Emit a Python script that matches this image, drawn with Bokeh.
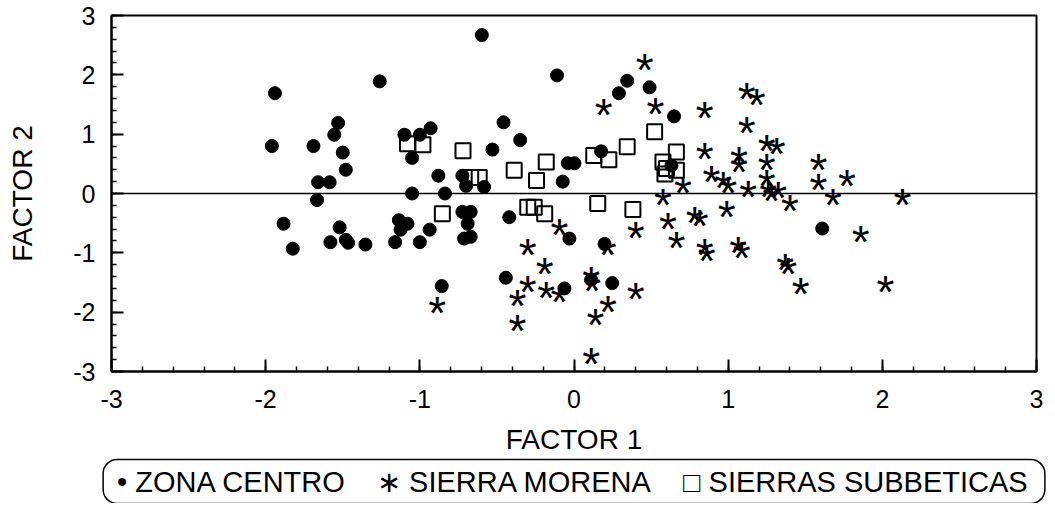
import numpy as np
from bokeh.plotting import figure
from bokeh.models import FixedTicker, Span, Title, ColumnDataSource
from bokeh.core.properties import value
from bokeh.embed import file_html
from bokeh.resources import INLINE

# ZONA CENTRO (filled dots)
zc_x = [-1.94, -1.26, -1.96, -1.69, -1.53, -1.555, -1.50, -1.48, -1.66, -1.585,
        -1.10, -1.00, -0.93, -1.05, -1.05, -0.837, -1.667, -0.598, -0.11, 0.345,
        0.291, 0.49, 0.649, 0.176, 0.632, -0.04, 0.003, -0.073, -0.457, -0.349,
        -0.529, -0.88, -0.724, -0.70, -0.583, -1.884, -1.824, -1.52, -1.58, -1.48,
        -1.465, -1.353, -1.136, -1.08, -1.125, -1.16, -1.00, -0.936, -0.724, -0.67,
        -0.69, -0.713, -0.67, -0.858, -0.42, -0.03, 0.198, -0.442, -0.062, 0.111,
        0.248, 1.61]
zc_y = [1.69, 1.89, 0.80, 0.80, 1.19, 0.99, 0.69, 0.40, 0.19, 0.19,
        0.99, 0.99, 1.10, 0.60, 0.0, 0.0, -0.11, 2.67, 1.99, 1.90,
        1.69, 1.79, 1.30, 0.71, 0.47, 0.51, 0.51, 0.20, 1.20, 0.90,
        0.74, 0.30, 0.30, 0.13, 0.11, -0.51, -0.93, -0.57, -0.82, -0.78,
        -0.83, -0.86, -0.45, -0.51, -0.61, -0.82, -0.82, -0.61, -0.31, -0.31,
        -0.51, -0.76, -0.73, -1.56, -0.40, -0.76, -0.85, -1.42, -1.60, -1.45,
        -1.51, -0.59]

# SIERRA MORENA (asterisks)
sm_x = [0.458, 0.193, 0.528, 0.848, 0.848, 0.892, 0.707, 1.12, 1.185, 1.12,
        1.25, 1.315, 1.07, 1.07, 1.25, 0.968, 1.0, 1.13, 1.25, 1.26,
        1.325, 1.28, 1.586, 1.586, 1.77, 1.68, 2.13, 1.40, 0.99, 1.86,
        0.848, 0.86, 1.065, 1.087, 1.37, 1.39, 1.47, 2.02, -0.887, -0.095,
        -0.30, 0.219, 0.40, 0.577, 0.61, 0.664, 0.783, 0.816, -0.19, -0.30,
        -0.366, -0.366, -0.18, -0.095, 0.111, 0.118, 0.22, 0.139, 0.40, 0.111]
sm_y = [2.18, 1.42, 1.44, 1.38, 0.68, 0.30, 0.11, 1.70, 1.59, 1.12,
        0.82, 0.76, 0.61, 0.47, 0.50, 0.19, 0.11, 0.05, 0.22, 0.05,
        0.02, -0.03, 0.50, 0.16, 0.22, -0.09, -0.09, -0.20, -0.30, -0.71,
        -0.93, -1.04, -0.90, -0.99, -1.18, -1.25, -1.60, -1.56, -1.91, -0.59,
        -0.93, -0.93, -0.65, -0.09, -0.50, -0.81, -0.40, -0.45, -1.25, -1.56,
        -1.80, -2.21, -1.66, -1.72, -1.41, -1.55, -1.90, -2.11, -1.67, -2.78]

# SIERRAS SUBBETICAS (open squares)
ss_x = [-1.08, -0.98, -0.72, -0.67, -0.615, -0.388, -0.18, -0.243, 0.128, 0.226,
        0.345, 0.523, 0.664, 0.577, 0.60, 0.664, 0.59, -0.854, -0.30, -0.258,
        -0.19, 0.154, 0.382]
ss_y = [0.84, 0.82, 0.72, 0.27, 0.27, 0.39, 0.53, 0.22, 0.64, 0.57,
        0.79, 1.04, 0.70, 0.53, 0.42, 0.39, 0.33, -0.34, -0.23, -0.23,
        -0.34, -0.17, -0.27]

tick_values = [-3, -2, -1, 0, 1, 2, 3]
tick_labels = ["-3", "-2", "-1", "0", "1", "2", "3"]
minor_values = [round(v, 1) for v in np.arange(-3, 3.001, 0.2)]
legend_labels = ["ZONA CENTRO", "SIERRA MORENA", "SIERRAS SUBBETICAS"]
x_title = "FACTOR 1"
y_title = "FACTOR 2"

FONT = "Liberation Sans"

p = figure(width=1047, height=503, x_range=(-3, 3), y_range=(-3, 3),
           output_backend="svg", toolbar_location=None,
           min_border_left=111, min_border_right=11, min_border_top=15,
           min_border_bottom=131)
p.grid.visible = False
p.outline_line_color = "black"
p.outline_line_width = 2
p.background_fill_color = "white"
p.border_fill_color = "white"

p.add_layout(Span(location=0, dimension="width", line_color="black", line_width=1.5))

p.scatter(x=zc_x, y=zc_y, marker="circle", size=13, color="black")
p.scatter(x=ss_x, y=ss_y, marker="square", size=15, fill_alpha=0,
          line_color="black", line_width=2)
src_sm = ColumnDataSource(dict(x=sm_x, y=sm_y))
p.text(x="x", y="y", source=src_sm, text=value("*"), text_font=value(FONT),
       text_font_size="46px", text_align="center", text_baseline="alphabetic",
       y_offset=6, text_color="black")

for ax in (p.xaxis[0], p.yaxis[0]):
    ax.ticker = FixedTicker(ticks=tick_values, minor_ticks=minor_values)
    ax.major_label_overrides = dict(zip(tick_values, tick_labels))
    ax.major_tick_in = 12
    ax.major_tick_out = 0
    ax.minor_tick_in = 5
    ax.minor_tick_out = 0
    ax.axis_line_width = 2
    ax.major_tick_line_width = 2
    ax.minor_tick_line_width = 1.5
    ax.major_label_text_font = FONT
    ax.major_label_text_font_size = "25px"
    ax.major_label_text_color = "black"
    ax.axis_label_text_font = FONT
    ax.axis_label_text_font_size = "28px"
    ax.axis_label_text_font_style = "normal"
    ax.axis_label_text_color = "black"

p.xaxis.axis_label = x_title
p.yaxis.axis_label = y_title
p.xaxis.major_label_standoff = 18
p.yaxis.major_label_standoff = 16
p.xaxis.axis_label_standoff = 13
p.yaxis.axis_label_standoff = 32

sp = "\u00a0"
legend_text = (f"\u2022{sp}{legend_labels[0]}{sp*4}\u2217{sp}{legend_labels[1]}"
               f"{sp*4}\u25a1{sp}{legend_labels[2]}")
legend_box = Title(text=legend_text, align="center", text_font=FONT,
                   text_font_size="29px", text_font_style="normal",
                   text_color="black", border_line_color="black",
                   border_line_width=1.5, border_radius=14, padding=(14, 6),
                   background_fill_color="white", standoff=0)
p.add_layout(legend_box, "below")

open("out.html", "w").write(file_html(p, INLINE))
